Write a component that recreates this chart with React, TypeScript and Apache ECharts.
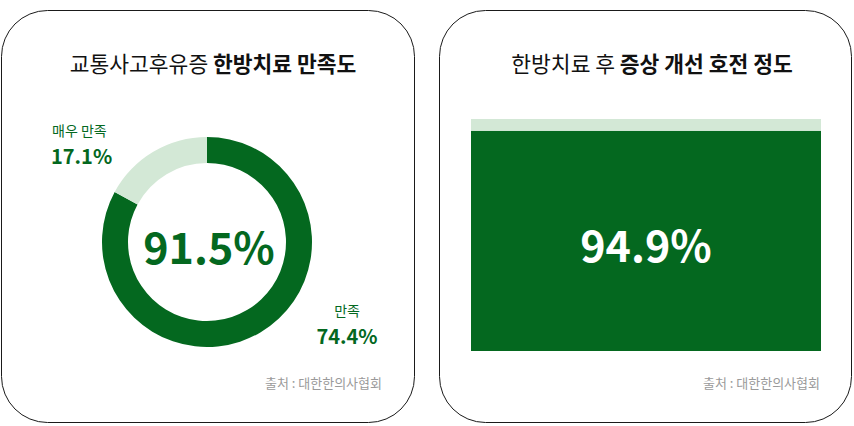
import React, { useEffect, useRef } from 'react';
import * as echarts from 'echarts';

// 교통사고후유증 한방치료 만족도 (ring)
const satisfactionNames = ['만족', '매우 만족'];
const satisfactionValues = [74.4, 17.1];
const satisfactionTotal = 91.5;

// 한방치료 후 증상 개선 호전 정도 (stacked block)
const improvementNames = ['호전', '기타'];
const improvementValues = [94.9, 5.1];

const titles = [
  ['교통사고후유증 ', '한방치료 만족도'],
  ['한방치료 후 ', '증상 개선 호전 정도'],
];
const sourceText = '출처 : 대한한의사협회';

const GREEN = '#04681f';
const LIGHT = '#d3e8d6';
const FONT = '"Noto Sans CJK KR", "Noto Sans", sans-serif';

const App: React.FC = () => {
  const chartRef = useRef<HTMLDivElement>(null);

  useEffect(() => {
    if (!chartRef.current) return;
    const chart = echarts.init(chartRef.current, undefined, { renderer: 'svg' });

    const titleRich = {
      n: { fontSize: 21.5, fontWeight: 400, color: '#111', fontFamily: FONT },
      b: { fontSize: 21.5, fontWeight: 700, color: '#111', fontFamily: FONT },
    };

    // ring: dark part fills everything except the "매우 만족" share
    const ringData = [
      { name: satisfactionNames[0], value: +(100 - satisfactionValues[1]).toFixed(1), itemStyle: { color: GREEN } },
      { name: satisfactionNames[1], value: satisfactionValues[1], itemStyle: { color: LIGHT } },
    ];

    const option: echarts.EChartsOption = {
      animation: false,
      backgroundColor: '#fff',
      title: [
        {
          text: `{n|${titles[0][0]}}{b|${titles[0][1]}}`,
          left: 208,
          top: 47,
          textAlign: 'center',
          textStyle: { rich: titleRich },
        },
        {
          text: `{n|${titles[1][0]}}{b|${titles[1][1]}}`,
          left: 647,
          top: 47,
          textAlign: 'center',
          textStyle: { rich: titleRich },
        },
      ],
      grid: { left: 471, top: 119, width: 350, height: 232, containLabel: false },
      xAxis: { type: 'category', data: ['정도'], show: false },
      yAxis: { type: 'value', min: 0, max: 100, show: false },
      series: [
        {
          type: 'pie',
          center: [207, 242],
          radius: [79, 105],
          startAngle: 90,
          silent: true,
          label: { show: false },
          labelLine: { show: false },
          data: ringData,
        },
        {
          type: 'bar',
          name: improvementNames[0],
          stack: 'all',
          barWidth: '100%',
          silent: true,
          itemStyle: { color: GREEN },
          label: {
            show: true,
            position: 'inside',
            formatter: (p: any) => `${p.value}%`,
            color: '#fff',
            fontSize: 43,
            fontWeight: 700,
            fontFamily: FONT,
            offset: [0, 2],
          },
          data: [improvementValues[0]],
        },
        {
          type: 'bar',
          name: improvementNames[1],
          stack: 'all',
          barWidth: '100%',
          silent: true,
          itemStyle: { color: LIGHT },
          data: [improvementValues[1]],
        },
      ],
      graphic: [
        {
          type: 'rect',
          z: -10,
          shape: { x: 1.5, y: 10.5, width: 413, height: 412, r: 46 },
          style: { fill: '#fff', stroke: '#1a1a1a', lineWidth: 1 },
        },
        {
          type: 'rect',
          z: -10,
          shape: { x: 439.5, y: 10.5, width: 412, height: 412, r: 46 },
          style: { fill: '#fff', stroke: '#1a1a1a', lineWidth: 1 },
        },
        {
          type: 'text',
          z: 100,
          x: 209,
          y: 245,
          style: {
            text: `${satisfactionTotal}%`,
            fill: GREEN,
            font: `700 43px ${FONT}`,
            align: 'center',
            verticalAlign: 'middle',
          },
        },
        {
          type: 'text',
          z: 100,
          x: 52,
          y: 130,
          style: {
            text: satisfactionNames[1],
            fill: GREEN,
            font: `400 14px ${FONT}`,
            align: 'left',
            verticalAlign: 'middle',
          },
        },
        {
          type: 'text',
          z: 100,
          x: 51,
          y: 155,
          style: {
            text: `${satisfactionValues[1]}%`,
            fill: GREEN,
            font: `700 20px ${FONT}`,
            align: 'left',
            verticalAlign: 'middle',
          },
        },
        {
          type: 'text',
          z: 100,
          x: 347,
          y: 310,
          style: {
            text: satisfactionNames[0],
            fill: GREEN,
            font: `400 14px ${FONT}`,
            align: 'center',
            verticalAlign: 'middle',
          },
        },
        {
          type: 'text',
          z: 100,
          x: 347,
          y: 335,
          style: {
            text: `${satisfactionValues[0]}%`,
            fill: GREEN,
            font: `700 20px ${FONT}`,
            align: 'center',
            verticalAlign: 'middle',
          },
        },
        {
          type: 'text',
          z: 100,
          x: 382,
          y: 382,
          style: {
            text: sourceText,
            fill: '#9a9a9a',
            font: `400 13px ${FONT}`,
            align: 'right',
            verticalAlign: 'middle',
          },
        },
        {
          type: 'text',
          z: 100,
          x: 820,
          y: 382,
          style: {
            text: sourceText,
            fill: '#9a9a9a',
            font: `400 13px ${FONT}`,
            align: 'right',
            verticalAlign: 'middle',
          },
        },
      ],
    };

    chart.setOption(option);
    return () => {
      chart.dispose();
    };
  }, []);

  return (
    <div
      ref={chartRef}
      style={{ position: 'fixed', left: 0, top: 0, width: 854, height: 426 }}
    />
  );
};

export default App;
